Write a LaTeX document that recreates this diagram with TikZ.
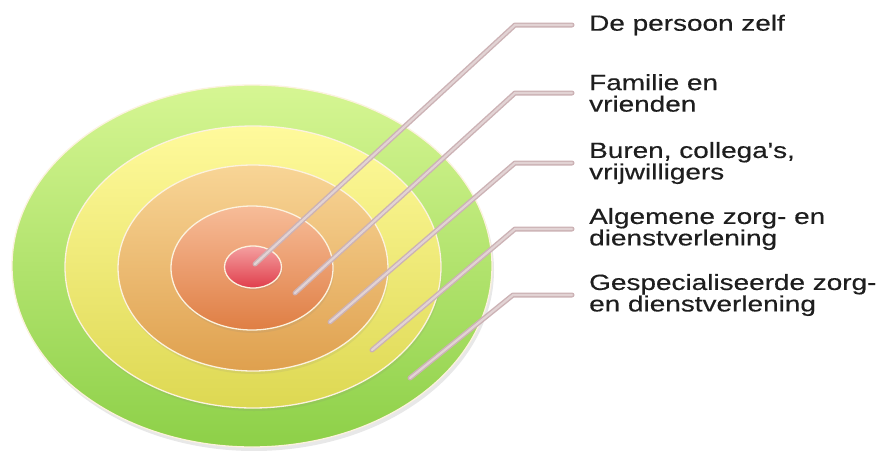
\documentclass[tikz,border=0pt]{standalone}
\usepackage{fontspec}
\newfontfamily\lblfont[FakeStretch=1.27,FakeBold=0.4]{Liberation Sans}
\usetikzlibrary{shapes.geometric,shadows}
\definecolor{gTop}{HTML}{D6F693}
\definecolor{gBot}{HTML}{8DD048}
\definecolor{yTop}{HTML}{FFFA9C}
\definecolor{yBot}{HTML}{DDD852}
\definecolor{oTop}{HTML}{F8D596}
\definecolor{oBot}{HTML}{DFA04E}
\definecolor{dTop}{HTML}{F7BC98}
\definecolor{dBot}{HTML}{DF7E44}
\definecolor{rTop}{HTML}{F4A0A0}
\definecolor{rBot}{HTML}{E03E4C}
\definecolor{ringEdge}{HTML}{FCF2DE}
\definecolor{leadEdge}{HTML}{CCB2B5}
\definecolor{leadFill}{HTML}{E2D3D4}
\definecolor{txt}{HTML}{1E1E1E}
\begin{document}
\begin{tikzpicture}[x=1pt,y=-1pt,
  ring/.style={ellipse, inner sep=0pt, outer sep=0pt, draw=ringEdge, line width=1.3pt, shading=axis, shading angle=0},
  leader/.style={draw=leadEdge, line width=5pt, line join=round, line cap=round,
    postaction={draw=leadFill, line width=2.2pt, line join=round, line cap=round}},
  lbl/.style={anchor=west, inner xsep=17pt, inner ysep=0pt, align=left, text=txt,
    font=\lblfont\fontsize{22}{21.5}\selectfont}
]
\useasboundingbox[fill=white] (0,0) rectangle (888,450);
% rings
\node[ring, top color=gTop, bottom color=gBot, minimum width=480pt, minimum height=362pt,
  drop shadow={opacity=0.18, shadow xshift=2pt, shadow yshift=-4pt}] (r5) at (252,266) {};
\node[ring, top color=yTop, bottom color=yBot, minimum width=376pt, minimum height=282pt,
  drop shadow={opacity=0.12, shadow xshift=1pt, shadow yshift=-3pt}] (r4) at (253,267) {};
\node[ring, top color=oTop, bottom color=oBot, minimum width=270pt, minimum height=206pt,
  drop shadow={opacity=0.12, shadow xshift=1pt, shadow yshift=-3pt}] (r3) at (253,268) {};
\node[ring, top color=dTop, bottom color=dBot, minimum width=162pt, minimum height=124pt,
  drop shadow={opacity=0.12, shadow xshift=1pt, shadow yshift=-3pt}] (r2) at (252,268) {};
\node[ring, top color=rTop, bottom color=rBot, minimum width=57pt, minimum height=42pt,
  drop shadow={opacity=0.15, shadow xshift=1pt, shadow yshift=-2pt}] (r1) at (253,267) {};
% labels
\node[lbl] (t1) at (572,25) {De persoon zelf};
\node[lbl] (t2) at (572,93) {Familie en\\vrienden};
\node[lbl] (t3) at (572,163) {Buren, collega's,\\vrijwilligers};
\node[lbl] (t4) at (572,229) {Algemene zorg- en\\dienstverlening};
\node[lbl] (t5) at (572,295) {Gespecialiseerde zorg-\\en dienstverlening};
% leader coordinates
\coordinate (s1) at (255,264);
\coordinate (s2) at (295,293);
\coordinate (s3) at (330,322);
\coordinate (s4) at (372,350);
\coordinate (s5) at (410,378);
\coordinate (e1) at (515,25);
\coordinate (e2) at (515,93);
\coordinate (e3) at (515,163);
\coordinate (e4) at (515,229);
\coordinate (e5) at (513,295);
\draw[leader] (s1) -- (e1) -- (t1.west);
\draw[leader] (s2) -- (e2) -- (t2.west);
\draw[leader] (s3) -- (e3) -- (t3.west);
\draw[leader] (s4) -- (e4) -- (t4.west);
\draw[leader] (s5) -- (e5) -- (t5.west);
\end{tikzpicture}
\end{document}
